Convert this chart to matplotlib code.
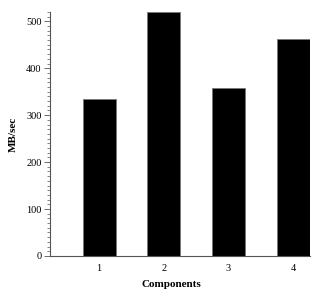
import matplotlib
matplotlib.use("Agg")
import matplotlib.pyplot as plt
import matplotlib.ticker as mtick

components = [1, 2, 3, 4]
mb_per_sec = [335, 520, 358, 463]

plt.rcParams["font.family"] = ["Liberation Serif", "DejaVu Serif"]

fig = plt.figure(figsize=(3.2, 2.99), dpi=100)
ax = fig.add_axes([0.156, 0.144, 0.813, 0.816])

ax.bar(components, mb_per_sec, width=0.51, color="black",
       edgecolor="#777777", linewidth=0.6)

ax.set_xlim(0.24, 4.26)
ax.set_ylim(0, 520)
ax.set_xticks(components)
ax.set_yticks([0, 100, 200, 300, 400, 500])
ax.yaxis.set_minor_locator(mtick.MultipleLocator(10))

for side in ["top", "right"]:
    ax.spines[side].set_visible(False)
for side in ["left", "bottom"]:
    ax.spines[side].set_color("#555555")
    ax.spines[side].set_linewidth(0.8)

ax.tick_params(axis="y", which="major", length=4, width=0.6,
               color="#555555", labelsize=7.5, pad=2)
ax.tick_params(axis="y", which="minor", length=2, width=0.5,
               color="#555555")
ax.tick_params(axis="x", length=0, labelsize=7.5, pad=6)

ax.set_xlabel("Components", fontsize=8, fontweight="bold", labelpad=4)
ax.xaxis.set_label_coords(0.465, -0.1)
ax.set_ylabel("MB/sec", fontsize=8, fontweight="bold", labelpad=6)

fig.savefig("out.png", dpi=100)
